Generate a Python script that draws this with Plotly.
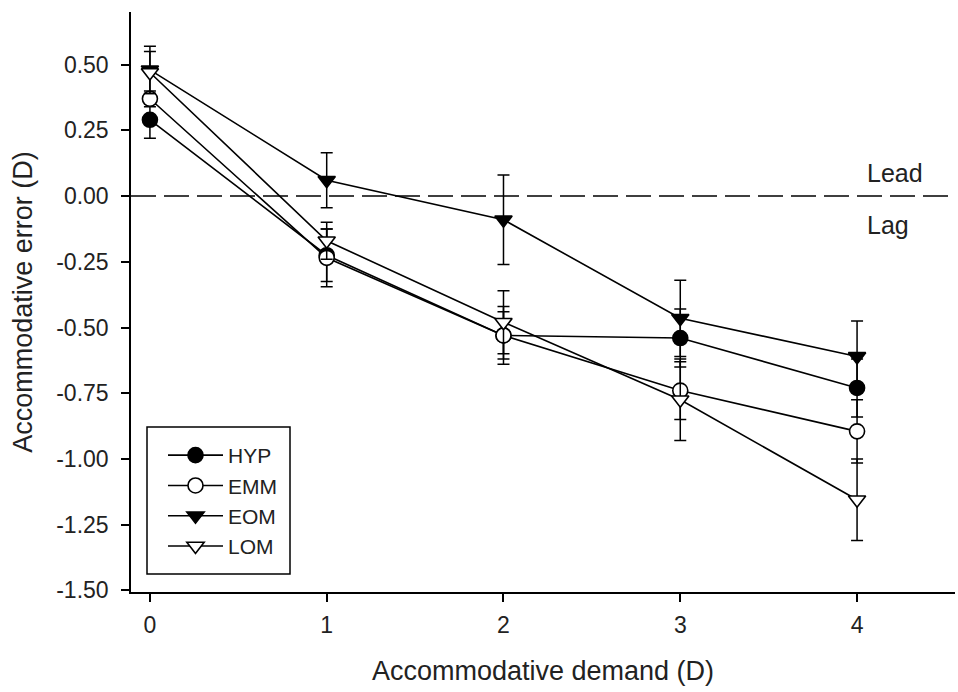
import plotly.graph_objects as go

demand = [0, 1, 2, 3, 4]
series_names = ["HYP", "EMM", "EOM", "LOM"]
hyp = [0.29, -0.225, -0.53, -0.54, -0.73]
hyp_err = [0.07, 0.10, 0.09, 0.11, 0.11]
emm = [0.37, -0.235, -0.53, -0.74, -0.895]
emm_err = [0.03, 0.11, 0.11, 0.11, 0.12]
eom = [0.48, 0.06, -0.09, -0.465, -0.61]
eom_err = [0.09, 0.105, 0.17, 0.145, 0.135]
lom = [0.47, -0.17, -0.48, -0.775, -1.155]
lom_err = [0.08, 0.07, 0.12, 0.155, 0.155]

y_ticks = [0.5, 0.25, 0.0, -0.25, -0.5, -0.75, -1.0, -1.25, -1.5]
y_tick_labels = ["0.50", "0.25", "0.00", "-0.25", "-0.50", "-0.75", "-1.00", "-1.25", "-1.50"]
x_ticks = [0, 1, 2, 3, 4]
x_tick_labels = ["0", "1", "2", "3", "4"]

values = [hyp, emm, eom, lom]
errors = [hyp_err, emm_err, eom_err, lom_err]
symbols = ["circle", "circle", "triangle-down", "triangle-down"]
fills = ["black", "white", "black", "white"]

FONT = "Liberation Sans, Arial, sans-serif"
TXT = "#222"

W, H = 958, 692
ML, MR, MT, MB = 131, 3, 12, 100
PW, PH = W - ML - MR, H - MT - MB


def px_x(px):
    return (px - ML) / PW


def px_y(py):
    return (H - MB - py) / PH


fig = go.Figure()
for name, v, e, s, f in zip(series_names, values, errors, symbols, fills):
    fig.add_trace(go.Scatter(
        x=demand, y=v, name=name, mode="lines+markers",
        line=dict(color="black", width=1.6),
        marker=dict(symbol=s, size=15, color=f, line=dict(color="black", width=1.6)),
        error_y=dict(type="data", array=e, visible=True, color="black", thickness=1.5, width=6),
    ))

fig.add_shape(type="line", xref="paper", x0=0, x1=1, yref="y", y0=0, y1=0,
              line=dict(color="black", width=1.5, dash="25px,8px"), layer="below")

# legend frame
fig.add_shape(type="rect", xref="paper", yref="paper",
              x0=px_x(147), x1=px_x(290), y0=px_y(574), y1=px_y(427),
              line=dict(color="black", width=1.5), fillcolor="white", layer="below")

fig.add_annotation(x=4.045, y=0.087, xref="x", yref="y", text="Lead", showarrow=False,
                   xanchor="left", yanchor="middle", font=dict(family=FONT, size=25, color=TXT))
fig.add_annotation(x=4.045, y=-0.11, xref="x", yref="y", text="Lag", showarrow=False,
                   xanchor="left", yanchor="middle", font=dict(family=FONT, size=25, color=TXT))

fig.update_layout(
    width=W, height=H,
    margin=dict(l=ML, r=MR, t=MT, b=MB),
    paper_bgcolor="white", plot_bgcolor="white",
    font=dict(family=FONT, color=TXT),
    showlegend=True,
    legend=dict(x=px_x(163), y=px_y(435), xanchor="left", yanchor="top",
                borderwidth=0, bgcolor="rgba(0,0,0,0)",
                font=dict(family=FONT, size=21, color=TXT), itemwidth=55),
    xaxis=dict(range=[-0.107, 4.554], tickvals=x_ticks, ticktext=x_tick_labels,
               showgrid=False, zeroline=False, showline=True, linecolor="black", linewidth=1.5,
               ticks="outside", ticklen=8, tickwidth=1.5, tickcolor="black",
               ticklabelstandoff=4,
               tickfont=dict(family=FONT, size=23, color=TXT),
               title=dict(text="Accommodative demand (D)", font=dict(family=FONT, size=27, color=TXT), standoff=24)),
    yaxis=dict(range=[-1.506, 0.70], tickvals=y_ticks, ticktext=y_tick_labels,
               showgrid=False, zeroline=False, showline=True, linecolor="black", linewidth=1.5,
               ticks="outside", ticklen=8, tickwidth=1.5, tickcolor="black",
               ticklabelstandoff=8,
               tickfont=dict(family=FONT, size=23, color=TXT),
               title=dict(text="Accommodative error (D)", font=dict(family=FONT, size=27, color=TXT), standoff=16)),
)

fig.write_html("out.html", config={"displayModeBar": False},
               post_script="document.body.style.margin='0';")
